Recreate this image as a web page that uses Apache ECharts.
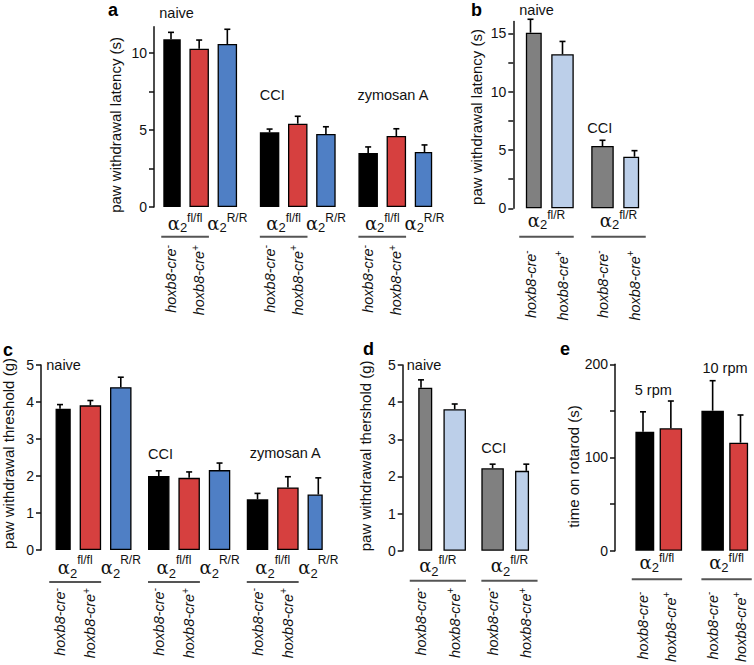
<!DOCTYPE html>
<html><head><meta charset="utf-8">
<script src="https://cdn.jsdelivr.net/npm/echarts@6/dist/echarts.min.js"></script>
<style>html,body{margin:0;padding:0;background:#fff}#c{width:754px;height:665px}</style>
</head><body><div id="c"></div>
<script>
// ---------------- DATA ----------------
// panel a
const aGroups = ['naive', 'CCI', 'zymosan A'];
const aCre = ['-', '+', ''];
const aGeno = ['fl/fl', 'fl/fl', 'R/R'];
const aMean = [10.89, 10.28, 10.58, 4.85, 5.41, 4.74, 3.51, 4.61, 3.57];
const aSEM  = [0.45, 0.56, 0.96, 0.21, 0.48, 0.47, 0.39, 0.47, 0.46];
const aTicks = [0, 2.5, 5, 7.5, 10];
const aTickLabels = [0, 5, 10];
const aYName = 'paw withdrawal latency (s)';
// panel b
const bGroups = ['naive', 'CCI'];
const bCre = ['-', '+'];
const bGeno = ['fl/R', 'fl/R'];
const bMean = [15.05, 13.2, 5.34, 4.42];
const bSEM  = [1.15, 1.1, 0.49, 0.52];
const bTicks = [0, 2.5, 5, 7.5, 10, 12.5, 15];
const bTickLabels = [0, 5, 10, 15];
const bYName = 'paw withdrawal latency (s)';
// panel c
const cGroups = ['naive', 'CCI', 'zymosan A'];
const cCre = ['-', '+', ''];
const cGeno = ['fl/fl', 'fl/fl', 'R/R'];
const cMean = [3.82, 3.91, 4.40, 2.00, 1.95, 2.16, 1.37, 1.69, 1.50];
const cSEM  = [0.11, 0.13, 0.27, 0.14, 0.16, 0.19, 0.16, 0.29, 0.45];
const cTicks = [0, 1, 2, 3, 4, 5];
const cTickLabels = [0, 1, 2, 3, 4, 5];
const cYName = 'paw withdrawal threshold (g)';
// panel d
const dGroups = ['naive', 'CCI'];
const dCre = ['-', '+'];
const dGeno = ['fl/R', 'fl/R'];
const dMean = [4.39, 3.81, 2.22, 2.15];
const dSEM  = [0.21, 0.14, 0.11, 0.18];
const dTicks = [0, 1, 2, 3, 4, 5];
const dTickLabels = [0, 1, 2, 3, 4, 5];
const dYName = 'paw withdrawal thershold (g)';
// panel e
const eGroups = ['5 rpm', '10 rpm'];
const eCre = ['-', '+'];
const eGeno = ['fl/fl', 'fl/fl'];
const eMean = [127.7, 131.3, 150.2, 115.9];
const eSEM  = [21.3, 29.3, 32.2, 29.7];
const eTicks = [0, 50, 100, 150, 200];
const eTickLabels = [0, 100, 200];
const eYName = 'time on rotarod (s)';

// ---------------- STYLE / LAYOUT ----------------
const FONT = 'Liberation Sans, Arial, sans-serif';
const INK = '#111';
const RED = '#d6403f', BLUE = '#4f7fc5', GREY = '#808080', LBLUE = '#bccfe9';
const panels = [
  {letter:'a', groups:aGroups, cre:aCre, geno:aGeno, mean:aMean, sem:aSEM, ticks:aTicks, labels:aTickLabels, yName:aYName,
   colors:['#000', RED, BLUE],
   L:{max:11.7, firstC:171, lastC:424.5, zeroY:207, topY:26.8, axisX:154, sub:2, gap:3, bw:19.5, nameGap:31, nameShift:8,
      titleY:[12.6, 7.27, 7.27], titleDx:[-2, 0, -1], bracketDy:29.7, creMargin:38, genoMargin:5, genoLH:22,
      letterX:108, letterY:10}},
  {letter:'b', groups:bGroups, cre:bCre, geno:bGeno, mean:bMean, sem:bSEM, ticks:bTicks, labels:bTickLabels, yName:bYName,
   colors:[GREY, LBLUE],
   L:{max:16, firstC:530.5, lastC:634.5, zeroY:208.3, topY:21.6, axisX:513.3, sub:4, gap:5, bw:22.5, nameGap:29, nameShift:2,
      titleY:[17.0, 6.88], titleDx:[0, -4], bracketDy:28.4, creMargin:42, genoMargin:1, genoLH:22,
      letterX:471, letterY:10}},
  {letter:'c', groups:cGroups, cre:cCre, geno:cGeno, mean:cMean, sem:cSEM, ticks:cTicks, labels:cTickLabels, yName:cYName,
   colors:['#000', RED, BLUE],
   L:{max:5, firstC:60, lastC:318.3, zeroY:550, topY:365, axisX:41, sub:4, gap:5, bw:21.5, nameGap:25, nameShift:-4,
      titleY:[5.0, 2.59, 2.61], titleDx:[-3, 0, 3], bracketDy:32, creMargin:38, genoMargin:4, genoLH:26,
      letterX:3, letterY:350}},
  {letter:'d', groups:dGroups, cre:dCre, geno:dGeno, mean:dMean, sem:dSEM, ticks:dTicks, labels:dTickLabels, yName:dYName,
   colors:[GREY, LBLUE],
   L:{max:5, firstC:421, lastC:526.3, zeroY:550.7, topY:365, axisX:402.7, sub:8, gap:9, bw:22.5, nameGap:30, nameShift:-2,
      titleY:[5.0, 2.77], titleDx:[-3, 0], bracketDy:30, creMargin:37, genoMargin:3, genoLH:24,
      letterX:363, letterY:349}},
  {letter:'e', groups:eGroups, cre:eCre, geno:eGeno, mean:eMean, sem:eSEM, ticks:eTicks, labels:eTickLabels, yName:eYName,
   colors:['#000', RED],
   L:{max:200, firstC:643, lastC:740.5, zeroY:550.7, topY:364.3, axisX:615, sub:2, gap:3, bw:22.5, nameGap:32, nameShift:9,
      titleY:[172, 196], titleDx:[3, 1], bracketDy:28.6, creMargin:41, genoMargin:1, genoLH:22,
      letterX:560, letterY:349}}
];

const creRich = {
  h:{fontSize:14.5, fontStyle:'italic', fontFamily:FONT, color:INK, lineHeight:18},
  s:{fontSize:10, fontFamily:FONT, color:INK, verticalAlign:'top', lineHeight:18}
};
function genoRich(lh) {
  return {
    al:{fontFamily:'DejaVu Serif', fontSize:18, color:INK, lineHeight:lh},
    sb:{fontFamily:FONT, fontSize:13, color:INK, verticalAlign:'bottom', lineHeight:lh},
    sp:{fontFamily:FONT, fontSize:12, color:INK, verticalAlign:'top', lineHeight:lh}
  };
}

const option = {animation:false, grid:[], xAxis:[], yAxis:[], series:[], graphic:[]};

panels.forEach((p, i) => {
  const L = p.L, n = p.cre.length, G = p.groups.length;
  const stride = (n - 1) * L.sub + L.gap;
  const pos = (g, k) => g * stride + k * L.sub;
  const total = pos(G - 1, n - 1) + 1;
  const u = (L.lastC - L.firstC) / (total - 1);
  const left = L.firstC - u / 2;
  option.grid.push({left:left, top:L.topY, width:total * u, height:L.zeroY - L.topY});

  const cats = Array.from({length:total}, (_, j) => 'c' + j);
  const creAt = new Array(total).fill('');
  const genoAt = new Array(total).fill('');
  const barData = new Array(total).fill('-');
  const errData = [], decoData = [];
  const creIdx = p.cre.map((c, k) => c ? k : -1).filter(k => k >= 0);
  for (let g = 0; g < G; g++) {
    for (let k = 0; k < n; k++) {
      const j = pos(g, k);
      creAt[j] = p.cre[k];
      barData[j] = {value:p.mean[g * n + k], itemStyle:{color:p.colors[k]}};
      errData.push([j, p.mean[g * n + k], p.sem[g * n + k]]);
    }
    let k = 0;
    while (k < n) {
      let e = k;
      while (e + 1 < n && p.geno[e + 1] === p.geno[k]) e++;
      genoAt[(pos(g, k) + pos(g, e)) / 2] = p.geno[k];
      k = e + 1;
    }
    decoData.push([pos(g, creIdx[0]), pos(g, creIdx[creIdx.length - 1]), g]);
  }

  const x0 = option.xAxis.length;
  option.xAxis.push({
    gridIndex:i, type:'category', data:cats, position:'bottom',
    axisLine:{show:false}, axisTick:{show:false}, splitLine:{show:false},
    axisLabel:{interval:0, rotate:90, margin:L.creMargin, rich:creRich,
      formatter:(v, j) => creAt[j] ? '{h|hoxb8-cre}{s|' + creAt[j] + '}' : ''}
  });
  option.xAxis.push({
    gridIndex:i, type:'category', data:cats, position:'bottom',
    axisLine:{show:false}, axisTick:{show:false}, splitLine:{show:false},
    axisLabel:{interval:0, margin:L.genoMargin, rich:genoRich(L.genoLH),
      formatter:(v, j) => genoAt[j] ? '{al|α}{sb|2}{sp|' + genoAt[j] + '}' : ''}
  });
  const sh = L.nameShift;
  option.yAxis.push({
    gridIndex:i, type:'value', min:0, max:L.max, offset:left - L.axisX,
    axisLine:{show:true, lineStyle:{color:INK, width:1.5}},
    axisTick:{show:true, length:5, customValues:p.ticks, lineStyle:{color:INK, width:1.5}},
    axisLabel:{customValues:p.labels, margin:7, fontSize:14, color:INK, fontFamily:FONT},
    splitLine:{show:false},
    name:p.yName, nameLocation:'middle', nameGap:L.nameGap,
    nameTextStyle:{fontSize:15, color:INK, fontFamily:FONT,
      padding: sh >= 0 ? [0, 2 * sh, 0, 0] : [0, 0, 0, -2 * sh]}
  });
  option.series.push({
    type:'bar', xAxisIndex:x0, yAxisIndex:i, data:barData, barWidth:L.bw,
    itemStyle:{borderColor:'#000', borderWidth:1.3}, z:2
  });
  option.series.push({
    type:'custom', xAxisIndex:x0, yAxisIndex:i, data:errData, clip:false, z:3,
    encode:{x:0, y:1},
    renderItem:(params, api) => {
      const x = api.value(0), m = api.value(1), s = api.value(2);
      const p0 = api.coord([x, m]), p1 = api.coord([x, m + s]);
      return {type:'group', children:[
        {type:'line', shape:{x1:p0[0], y1:p0[1], x2:p1[0], y2:p1[1]}, style:{stroke:'#000', lineWidth:1.6}},
        {type:'line', shape:{x1:p1[0] - 3, y1:p1[1], x2:p1[0] + 3, y2:p1[1]}, style:{stroke:'#000', lineWidth:1.6}}
      ]};
    }
  });
  option.series.push({
    type:'custom', xAxisIndex:x0, yAxisIndex:i, data:decoData, clip:false, z:3,
    encode:{x:0, y:1},
    renderItem:(params, api) => {
      const a = api.value(0), b = api.value(1), g = api.value(2);
      const pa = api.coord([a, 0]), pb = api.coord([b, 0]);
      const pt = api.coord([a, L.titleY[g]]);
      const yb = pa[1] + L.bracketDy;
      return {type:'group', children:[
        {type:'line', shape:{x1:pa[0] - L.bw / 2, y1:yb, x2:pb[0] + L.bw / 2, y2:yb}, style:{stroke:'#555', lineWidth:2}},
        {type:'text', x:pt[0] - L.bw / 2 + L.titleDx[g], y:pt[1],
         style:{text:p.groups[g], fill:INK, fontSize:14.5, fontFamily:FONT, align:'left', verticalAlign:'middle'}}
      ]};
    }
  });
  option.graphic.push({type:'text', x:L.letterX, y:L.letterY,
    style:{text:p.letter, fill:'#000', fontSize:18, fontWeight:'bold', fontFamily:FONT, align:'left', verticalAlign:'middle'}});
});

const chart = echarts.init(document.getElementById('c'), null, {renderer:'svg'});
chart.setOption(option);
</script>
</body></html>
